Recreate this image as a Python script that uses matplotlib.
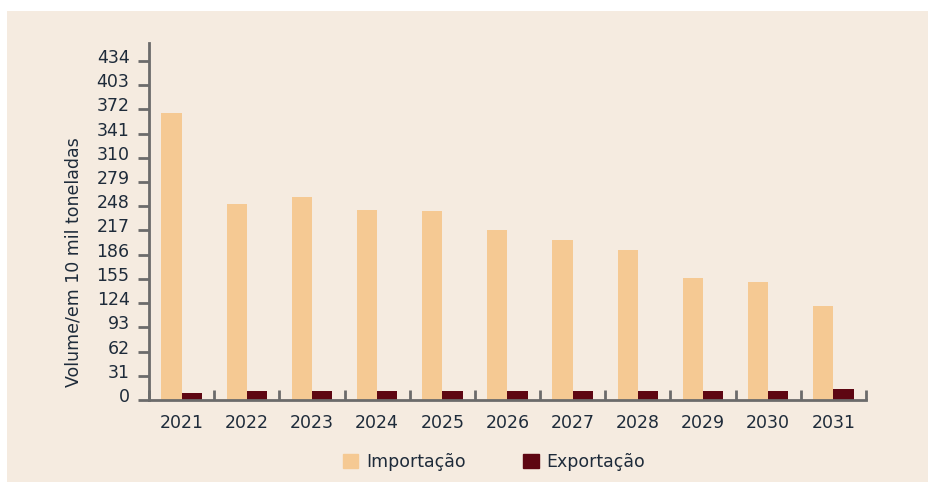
import matplotlib.pyplot as plt
import matplotlib.transforms as mtransforms
from matplotlib.patches import Rectangle, Patch
import numpy as np

anos = ['2021', '2022', '2023', '2024', '2025', '2026', '2027', '2028', '2029', '2030', '2031']
importacao = [368, 251, 260, 243, 242, 218, 205, 192, 156, 151, 120]
exportacao = [8.5, 11.5, 11.5, 11, 11, 11, 11, 11, 11, 11, 14]
yticks = [0, 31, 62, 93, 124, 155, 186, 217, 248, 279, 310, 341, 372, 403, 434]

bg = '#f5ebe0'
cor_imp = '#f5c993'
cor_exp = '#5e0612'
txt = '#1e2b3a'
eixo = '#6b6b6b'

plt.rcParams['font.family'] = ['DejaVu Sans']

fig = plt.figure(figsize=(9.29, 4.82), dpi=100, facecolor='white')
fig.patches.append(Rectangle((7 / 929, 0), 1, 1 - 11 / 482, transform=fig.transFigure,
                             facecolor=bg, edgecolor='none', zorder=-10))

ax = fig.add_axes([149 / 929, (482 - 400) / 482, (866 - 149) / 929, (400 - 43) / 482])
ax.set_zorder(1)
ax.set_facecolor(bg)

x = np.arange(len(anos))
w = 0.31
ax.bar(x - w / 2, importacao, w, color=cor_imp, label='Importação')
ax.bar(x + w / 2, exportacao, w, color=cor_exp, label='Exportação')

ax.set_xlim(-0.5, len(anos) - 0.5)
ax.set_ylim(0, 457)
ax.set_yticks(yticks)
ax.set_yticklabels([str(v) for v in yticks], fontsize=12.5, color=txt)
ax.set_xticks(x)
ax.set_xticklabels(anos, fontsize=12.5, color=txt)
ax.tick_params(axis='x', length=0, pad=10)
ax.set_xticks(np.arange(-0.5, len(anos)), minor=True)
ax.tick_params(axis='x', which='minor', direction='in', length=7, width=2, color=eixo)
ax.tick_params(axis='y', direction='out', length=8, width=2, color=eixo, pad=6)

# labels do eixo y ficam um pouco acima dos ticks
desloc = mtransforms.ScaledTranslation(0, 5 / 100, fig.dpi_scale_trans)
for lbl in ax.get_yticklabels():
    lbl.set_transform(lbl.get_transform() + desloc)

for s in ['top', 'right']:
    ax.spines[s].set_visible(False)
for s in ['left', 'bottom']:
    ax.spines[s].set_color(eixo)
    ax.spines[s].set_linewidth(2)

ax.set_ylabel('Volume/em 10 mil toneladas', fontsize=12.5, color=txt)
ax.yaxis.set_label_coords(-0.093, 0.385)

handles = [Patch(color=cor_imp), Patch(color=cor_exp)]
fig.legend(handles, ['Importação', 'Exportação'], loc='center', bbox_to_anchor=(494 / 929, 1 - 462 / 482),
           ncol=2, frameon=False, fontsize=12.5, handlelength=0.9, handleheight=0.9,
           columnspacing=3.3, handletextpad=0.45, labelcolor=txt)

fig.savefig('out.png', dpi=100, facecolor='white')
